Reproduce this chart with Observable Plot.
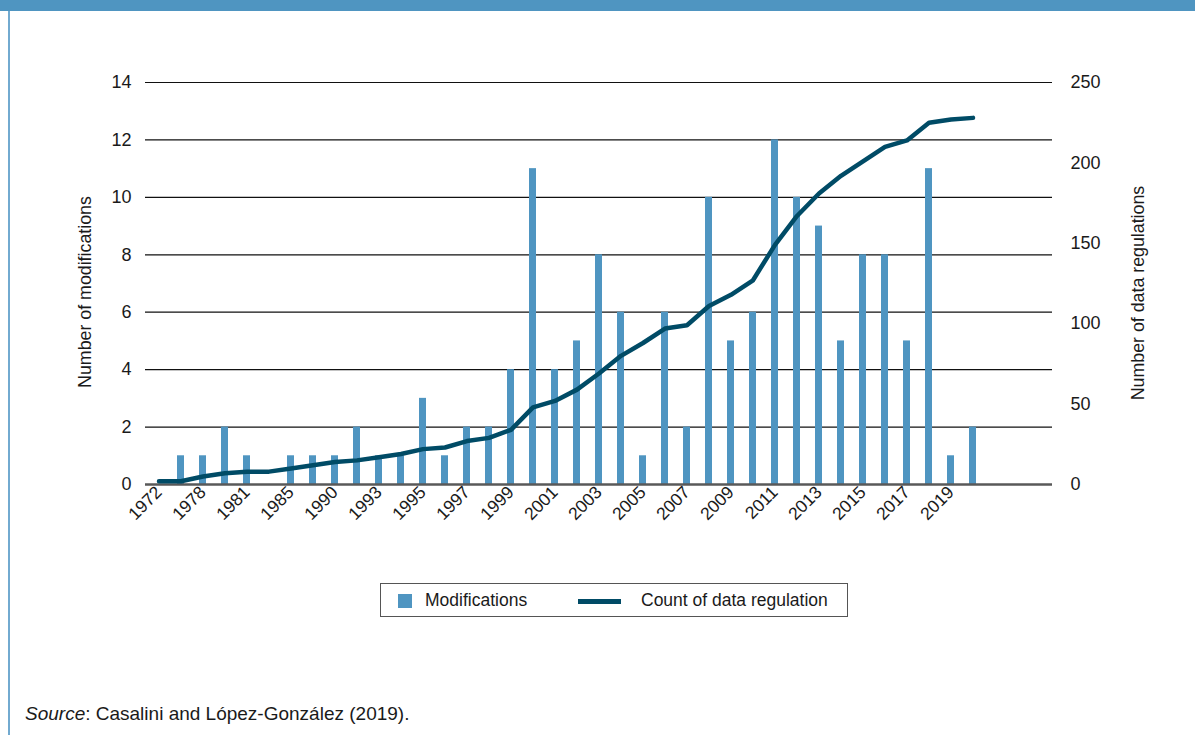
<!DOCTYPE html>
<html>
<head>
<meta charset="utf-8">
<script src="https://cdn.jsdelivr.net/npm/d3@7"></script>
<script src="https://cdn.jsdelivr.net/npm/@observablehq/plot@0.6"></script>
<style>
  html, body { margin: 0; padding: 0; background: #fff; }
  #page { position: relative; width: 1195px; height: 735px; overflow: hidden; font-family: "Liberation Sans", Arial, sans-serif; color: #1a1a1a; }
  #topbar { position: absolute; left: 0; top: 0; width: 1195px; height: 11px; background: #4f95c1; }
  #leftline { position: absolute; left: 8px; top: 11px; width: 2px; height: 724px; background: #72aad0; }
  #chart { position: absolute; left: 0; top: 0; }
  #chart svg text { fill: #1a1a1a; }
  .ytitle { position: absolute; width: 300px; height: 20px; line-height: 20px; text-align: center; font-size: 17.8px; transform: rotate(-90deg); white-space: nowrap; }
  #ltitle { left: -65px; top: 282px; }
  #rtitle { left: 988px; top: 283px; }
  #legend { position: absolute; left: 380px; top: 583px; width: 466px; height: 32px; border: 1px solid #555; box-sizing: content-box; font-size: 17.5px; }
  #legend .sw { position: absolute; left: 17px; top: 10px; width: 14px; height: 14px; background: #4f95c1; }
  #legend .t1 { position: absolute; left: 44px; top: 6px; }
  #legend .ln { position: absolute; left: 197px; top: 15px; width: 43px; height: 5px; background: #004b66; }
  #legend .t2 { position: absolute; left: 260px; top: 6px; }
  #source { position: absolute; left: 25px; top: 703px; font-size: 19px; }
</style>
</head>
<body>
<div id="page">
  <div id="topbar"></div>
  <div id="leftline"></div>
  <div id="chart"></div>
  <div class="ytitle" id="ltitle">Number of modifications</div>
  <div class="ytitle" id="rtitle">Number of data regulations</div>
  <div id="legend">
    <div class="sw"></div><div class="t1">Modifications</div>
    <div class="ln"></div><div class="t2">Count of data regulation</div>
  </div>
  <div id="source"><i>Source</i>: Casalini and López-González (2019).</div>
</div>
<script>
// Categories (some intermediate years are unlabeled on the axis)
const years = ["1972","1976","1978","1980","1981","1983","1985","1988","1990","1992","1993","1994","1995","1996","1997","1998","1999","2000","2001","2002","2003","2004","2005","2006","2007","2008","2009","2010","2011","2012","2013","2014","2015","2016","2017","2018","2019","2020"];
const emptyCategories = [" ", "  ", "   "];
const tickYears = ["1972","1978","1981","1985","1990","1993","1995","1997","1999","2001","2003","2005","2007","2009","2011","2013","2015","2017","2019"];
const modifications = [0,1,1,2,1,0,1,1,1,2,1,1,3,1,2,2,4,11,4,5,8,6,1,6,2,10,5,6,12,10,9,5,8,8,5,11,1,2];
const regulationCount = [2,2,5,7,8,8,10,12,14,15,17,19,22,23,27,29,34,48,52,59,69,80,88,97,99,111,118,127,149,167,181,192,201,210,214,225,227,228];
const leftTicks = [0,2,4,6,8,10,12,14];
const rightTicks = [0,50,100,150,200,250];

const leftMax = 14, rightMax = 250;
const toLeft = v => v * leftMax / rightMax;

const barColor = "#4f95c1";
const lineColor = "#004b66";

const data = years.map((y, i) => ({year: y, mod: modifications[i], count: regulationCount[i]}));

const chart = Plot.plot({
  width: 1195,
  height: 560,
  marginLeft: 145,
  marginRight: 143,
  marginTop: 82,
  marginBottom: 76,
  style: {fontFamily: "Liberation Sans, Arial, sans-serif", fontSize: "18px", color: "#1a1a1a", background: "transparent"},
  x: {domain: [...years, ...emptyCategories], paddingInner: 0.66, paddingOuter: 0.33, axis: null},
  y: {domain: [0, leftMax], axis: null},
  marks: [
    Plot.ruleY(leftTicks.filter(d => d > 0), {stroke: "#111", strokeWidth: 1.2}),
    Plot.barY(data, {x: "year", y: "mod", fill: barColor}),
    Plot.ruleY([0], {stroke: "#595959", strokeWidth: 2.5}),
    Plot.line(data, {x: "year", y: d => toLeft(d.count), stroke: lineColor, strokeWidth: 4.5, strokeLinejoin: "round"}),
    Plot.axisX({ticks: tickYears, tickSize: 0, tickPadding: 5, tickRotate: -45, fontSize: 17.5, label: null}),
    Plot.axisY({anchor: "left", ticks: leftTicks, tickSize: 0, tickPadding: 14, fontSize: 18, label: null}),
    Plot.axisY({anchor: "right", ticks: rightTicks.map(toLeft), tickFormat: d => String(Math.round(d * rightMax / leftMax)),
      tickSize: 0, tickPadding: 18, fontSize: 18, label: null})
  ]
});
document.getElementById("chart").appendChild(chart);
</script>
</body>
</html>
